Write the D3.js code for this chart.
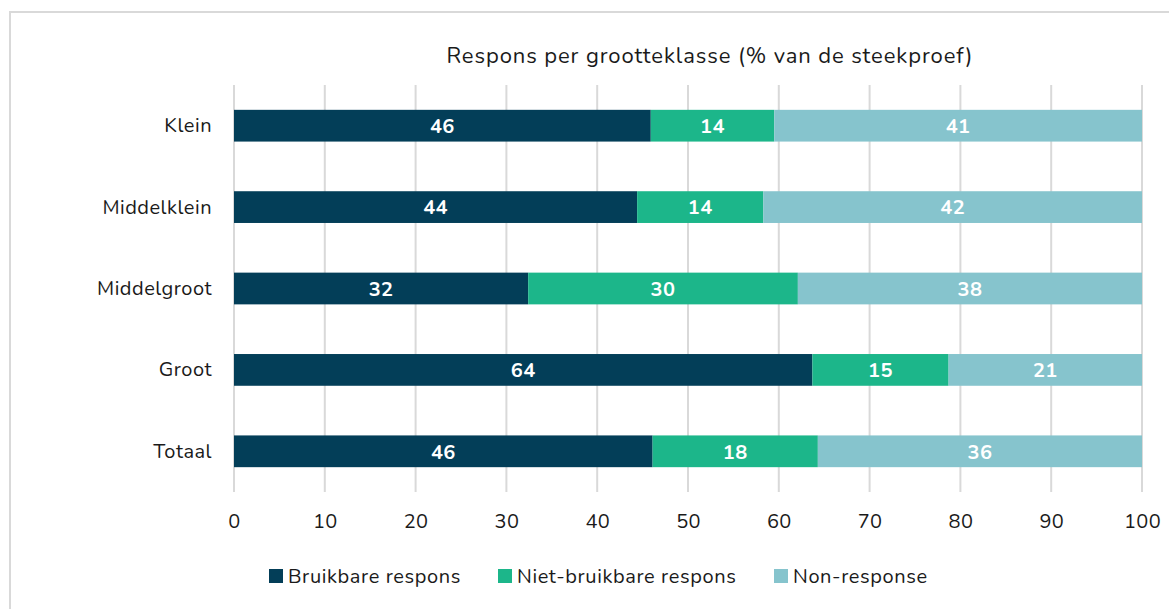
<!DOCTYPE html>
<html>
<head>
<meta charset="utf-8">
<script src="https://cdn.jsdelivr.net/npm/d3@7"></script>
<style>
  body { margin: 0; background: #fff; }
  text { font-family: "Nunito", "Lato", "Open Sans", sans-serif; }
</style>
</head>
<body>
<svg id="chart" width="1169" height="609"></svg>
<script>
// data
var categories = ["Klein", "Middelklein", "Middelgroot", "Groot", "Totaal"];
var series_names = ["Bruikbare respons", "Niet-bruikbare respons", "Non-response"];
var bruikbaar = [45.9, 44.4, 32.4, 63.7, 46.1];
var niet_bruikbaar = [13.6, 13.9, 29.7, 15.0, 18.2];
var non_response = [40.5, 41.7, 37.9, 21.3, 35.7];
var x_ticks = [0, 10, 20, 30, 40, 50, 60, 70, 80, 90, 100];
var colors = ["#033e58", "#1cb68a", "#86c4cd"];

var svg = d3.select("#chart");
var margin = {left: 234, right: 27, top: 85, bottom: 117};
var width = 1169;
var height = 609;

// outer frame
svg.append("rect")
    .attr("x", 10).attr("y", 12)
    .attr("width", 1180).attr("height", 620)
    .attr("fill", "none")
    .attr("stroke", "#d9d9d9")
    .attr("stroke-width", 2);

var rows = categories.map(function (c, i) {
    return {cat: c, s0: bruikbaar[i], s1: niet_bruikbaar[i], s2: non_response[i]};
});
var stack = d3.stack().keys(["s0", "s1", "s2"])(rows);

var x = d3.scaleLinear().domain([0, 100]).range([margin.left, width - margin.right]);
var y = d3.scaleBand().domain(categories)
    .range([margin.top, height - margin.bottom])
    .paddingInner(0.61).paddingOuter(0.305);

// gridlines
svg.append("g").selectAll("line")
    .data(x_ticks)
    .enter()
    .append("line")
    .attr("x1", function (d) { return x(d); })
    .attr("x2", function (d) { return x(d); })
    .attr("y1", margin.top)
    .attr("y2", height - margin.bottom)
    .attr("stroke", "#d9d9d9")
    .attr("stroke-width", 2);

// bars
var layers = svg.append("g").selectAll("g")
    .data(stack)
    .enter()
    .append("g")
    .attr("fill", function (d, i) { return colors[i]; });

layers.selectAll("rect")
    .data(function (d) { return d; })
    .enter()
    .append("rect")
    .attr("x", function (d) { return x(d[0]); })
    .attr("y", function (d) { return y(d.data.cat); })
    .attr("width", function (d) { return x(d[1]) - x(d[0]); })
    .attr("height", y.bandwidth());

layers.selectAll("text")
    .data(function (d) { return d; })
    .enter()
    .append("text")
    .attr("x", function (d) { return (x(d[0]) + x(d[1])) / 2; })
    .attr("y", function (d) { return y(d.data.cat) + y.bandwidth() / 2; })
    .attr("dy", "0.36em")
    .attr("text-anchor", "middle")
    .attr("fill", "white")
    .style("font-size", "20px")
    .style("font-weight", "bold")
    .style("letter-spacing", "0.4px")
    .text(function (d) { return Math.round(d[1] - d[0]); });

// category labels
var yAxis = svg.append("g")
    .attr("transform", "translate(" + (margin.left - 22) + ",0)")
    .call(d3.axisLeft(y).tickSize(0).tickPadding(0));
yAxis.select(".domain").remove();
yAxis.selectAll("text")
    .style("font-size", "20px")
    .style("letter-spacing", "0.5px")
    .attr("fill", "#1a1a1a")
    .style("font-family", "Nunito, Lato, 'Open Sans', sans-serif");

// x axis labels
var xAxis = svg.append("g")
    .attr("transform", "translate(0," + (height - margin.bottom) + ")")
    .call(d3.axisBottom(x).tickValues(x_ticks).tickSize(0).tickPadding(22));
xAxis.select(".domain").remove();
xAxis.selectAll("text")
    .style("font-size", "20px")
    .style("letter-spacing", "0.3px")
    .attr("fill", "#1a1a1a")
    .style("font-family", "Nunito, Lato, 'Open Sans', sans-serif");

// title
svg.append("text")
    .attr("x", 710)
    .attr("y", 63)
    .attr("text-anchor", "middle")
    .attr("fill", "#1a1a1a")
    .style("font-size", "22px")
    .style("letter-spacing", "0.9px")
    .text("Respons per grootteklasse (% van de steekproef)");

// legend
var legend_x = [269, 498, 774];
var legend = svg.append("g").selectAll("g")
    .data(series_names)
    .enter()
    .append("g")
    .attr("transform", function (d, i) { return "translate(" + legend_x[i] + ",569)"; });
legend.append("rect")
    .attr("width", 14).attr("height", 14)
    .attr("fill", function (d, i) { return colors[i]; });
legend.append("text")
    .attr("x", 19)
    .attr("y", 7)
    .attr("dy", "0.36em")
    .attr("fill", "#1a1a1a")
    .style("font-size", "20px")
    .style("letter-spacing", "0.6px")
    .text(function (d) { return d; });
</script>
</body>
</html>
